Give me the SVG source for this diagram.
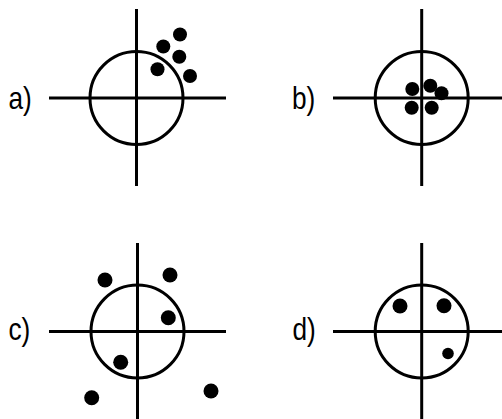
<svg xmlns="http://www.w3.org/2000/svg" width="502" height="419" viewBox="0 0 502 419">
<style>
.ax{stroke:#000;stroke-width:3;fill:none}
.ring{stroke:#000;stroke-width:3;fill:none}
.dot{fill:#000}
.lbl{font-family:"Liberation Sans",Arial,sans-serif;font-size:32px;fill:#000}
</style>
<rect width="502" height="419" fill="#fff"/>
<g id="panel-a">
<line class="ax" x1="136.5" y1="9" x2="136.5" y2="186"/>
<line class="ax" x1="49" y1="98" x2="226" y2="98"/>
<circle class="ring" cx="136.5" cy="98" r="46.5"/>
<circle class="dot" cx="180" cy="34.5" r="7"/>
<circle class="dot" cx="163.3" cy="46.5" r="7"/>
<circle class="dot" cx="179.3" cy="56.7" r="7"/>
<circle class="dot" cx="157.5" cy="69.2" r="7"/>
<circle class="dot" cx="190" cy="76" r="7"/>
<text class="lbl" transform="translate(8.5,108.5) scale(0.82,1)">a)</text>
</g>
<g id="panel-b">
<line class="ax" x1="421.7" y1="9" x2="421.7" y2="186"/>
<line class="ax" x1="333" y1="98" x2="502" y2="98"/>
<circle class="ring" cx="421.7" cy="98" r="46.5"/>
<circle class="dot" cx="412.3" cy="89" r="7"/>
<circle class="dot" cx="430.3" cy="85.7" r="7"/>
<circle class="dot" cx="441.5" cy="93.3" r="7"/>
<circle class="dot" cx="411.7" cy="107.7" r="7"/>
<circle class="dot" cx="431.7" cy="107.7" r="7"/>
<text class="lbl" transform="translate(292,108.5) scale(0.82,1)">b)</text>
</g>
<g id="panel-c">
<line class="ax" x1="137.5" y1="243" x2="137.5" y2="419"/>
<line class="ax" x1="49" y1="331.5" x2="226" y2="331.5"/>
<circle class="ring" cx="137.5" cy="331.5" r="46.5"/>
<circle class="dot" cx="105" cy="280" r="7.5"/>
<circle class="dot" cx="170" cy="275" r="7.5"/>
<circle class="dot" cx="168.3" cy="317.7" r="7.5"/>
<circle class="dot" cx="120.7" cy="362.3" r="7.5"/>
<circle class="dot" cx="91.7" cy="397.7" r="7.5"/>
<circle class="dot" cx="211" cy="391" r="7.5"/>
<text class="lbl" transform="translate(8.5,339.5) scale(0.82,1)">c)</text>
</g>
<g id="panel-d">
<line class="ax" x1="421.7" y1="243" x2="421.7" y2="419"/>
<line class="ax" x1="333" y1="331.5" x2="502" y2="331.5"/>
<circle class="ring" cx="421.7" cy="331.5" r="46.5"/>
<circle class="dot" cx="400" cy="306" r="7.5"/>
<circle class="dot" cx="444" cy="305.7" r="7.5"/>
<circle class="dot" cx="448" cy="353.5" r="5.8"/>
<text class="lbl" transform="translate(292.5,339.5) scale(0.82,1)">d)</text>
</g>
<g id="connectors"></g>
</svg>
